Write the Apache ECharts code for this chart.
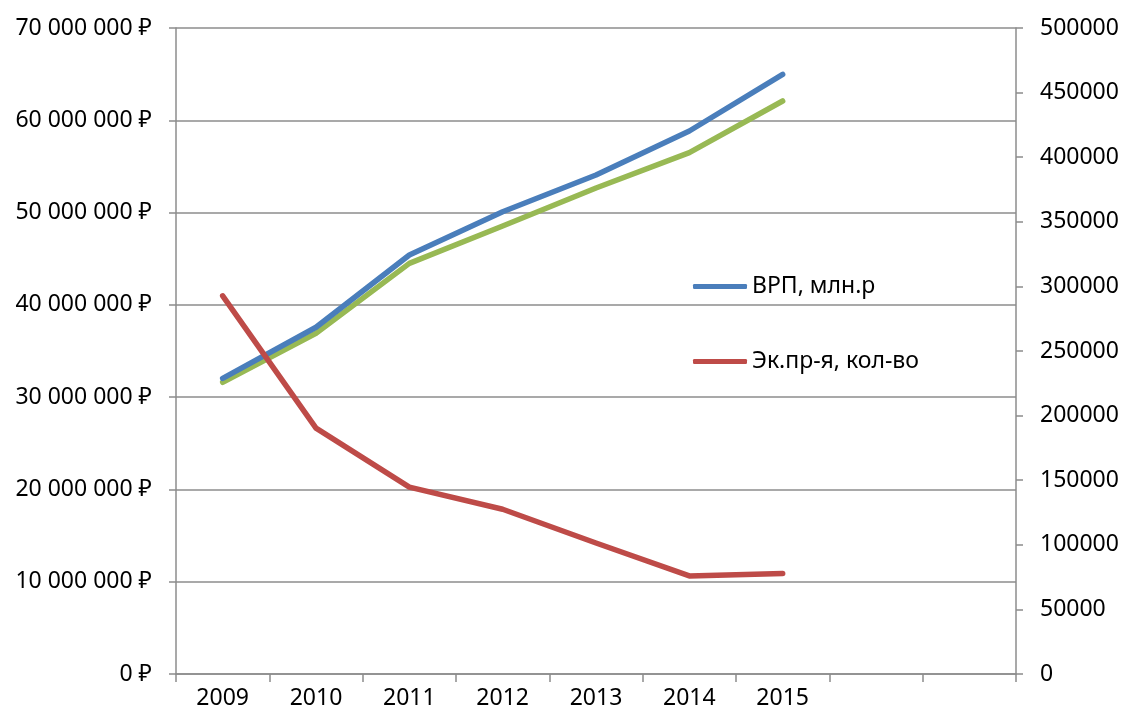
<!DOCTYPE html>
<html>
<head>
<meta charset="utf-8">
<script src="https://cdn.jsdelivr.net/npm/echarts@6/dist/echarts.min.js"></script>
<style>html,body{margin:0;padding:0;background:#fff}#c{width:1123px;height:718px}</style>
</head>
<body>
<div id="c"></div>
<script>
const categories = ['2009','2010','2011','2012','2013','2014','2015','',''];
const vrp = [32040000, 37570000, 45400000, 50090000, 54070000, 58840000, 64980000];
const greenSeries = [31610000, 36920000, 44500000, 48540000, 52660000, 56490000, 62090000];
const enterprises = [292700, 190300, 144600, 127500, 101400, 75900, 77700];
const leftTicks = {min: 0, max: 70000000, interval: 10000000};
const rightTicks = {min: 0, max: 500000, interval: 50000};

const FONT = 'Noto Sans';
const FS = 23;
const axisGray = '#8c8c8c';
function rub(v){
  return String(v).replace(/\B(?=(\d{3})+(?!\d))/g, ' ') + ' ₽';
}
const chart = echarts.init(document.getElementById('c'));
chart.setOption({
  animation: false,
  backgroundColor: '#fff',
  grid: {left: 176, right: 107, top: 28, bottom: 44, containLabel: false},
  legend: {
    data: [
      {name: 'ВРП, млн.р', icon: 'roundRect'},
      {name: 'Эк.пр-я, кол-во', icon: 'roundRect'}
    ],
    orient: 'vertical',
    left: 688, top: 270,
    itemWidth: 54, itemHeight: 5, itemGap: 52,
    textStyle: {fontFamily: FONT, fontSize: FS, color: '#000'}
  },
  xAxis: {
    type: 'category', data: categories, boundaryGap: true,
    axisLine: {lineStyle: {color: axisGray, width: 1.5}},
    axisTick: {show: true, length: 8, interval: 0, lineStyle: {color: axisGray, width: 1.5}},
    axisLabel: {fontFamily: FONT, fontSize: FS, color: '#000', margin: 13, interval: 0},
    splitLine: {show: false}
  },
  yAxis: [
    {
      type: 'value', position: 'left', ...leftTicks,
      axisLine: {show: true, lineStyle: {color: axisGray, width: 1.5}},
      axisTick: {show: true, length: 7, lineStyle: {color: axisGray, width: 1.5}},
      axisLabel: {fontFamily: FONT, fontSize: FS, color: '#000', margin: 24, formatter: rub},
      splitLine: {show: true, lineStyle: {color: axisGray, width: 1.5}}
    },
    {
      type: 'value', position: 'right', ...rightTicks,
      axisLine: {show: true, lineStyle: {color: axisGray, width: 1.5}},
      axisTick: {show: true, length: 7, lineStyle: {color: axisGray, width: 1.5}},
      axisLabel: {fontFamily: FONT, fontSize: FS, color: '#000', margin: 24, formatter: function(v){ return String(v); }},
      splitLine: {show: false}
    }
  ],
  series: [
    {name: 'ВРП, млн.р', type: 'line', yAxisIndex: 0, data: vrp, symbol: 'none',
     itemStyle: {color: '#4a7ebb'}, lineStyle: {color: '#4a7ebb', width: 5.5, cap: 'round', join: 'round'}, z: 3},
    {name: 'green', type: 'line', yAxisIndex: 0, data: greenSeries, symbol: 'none',
     itemStyle: {color: '#98b954'}, lineStyle: {color: '#98b954', width: 5.5, cap: 'round', join: 'round'}, z: 2},
    {name: 'Эк.пр-я, кол-во', type: 'line', yAxisIndex: 1, data: enterprises, symbol: 'none',
     itemStyle: {color: '#be4b48'}, lineStyle: {color: '#be4b48', width: 5.5, cap: 'round', join: 'round'}, z: 4}
  ]
});
</script>
</body>
</html>
